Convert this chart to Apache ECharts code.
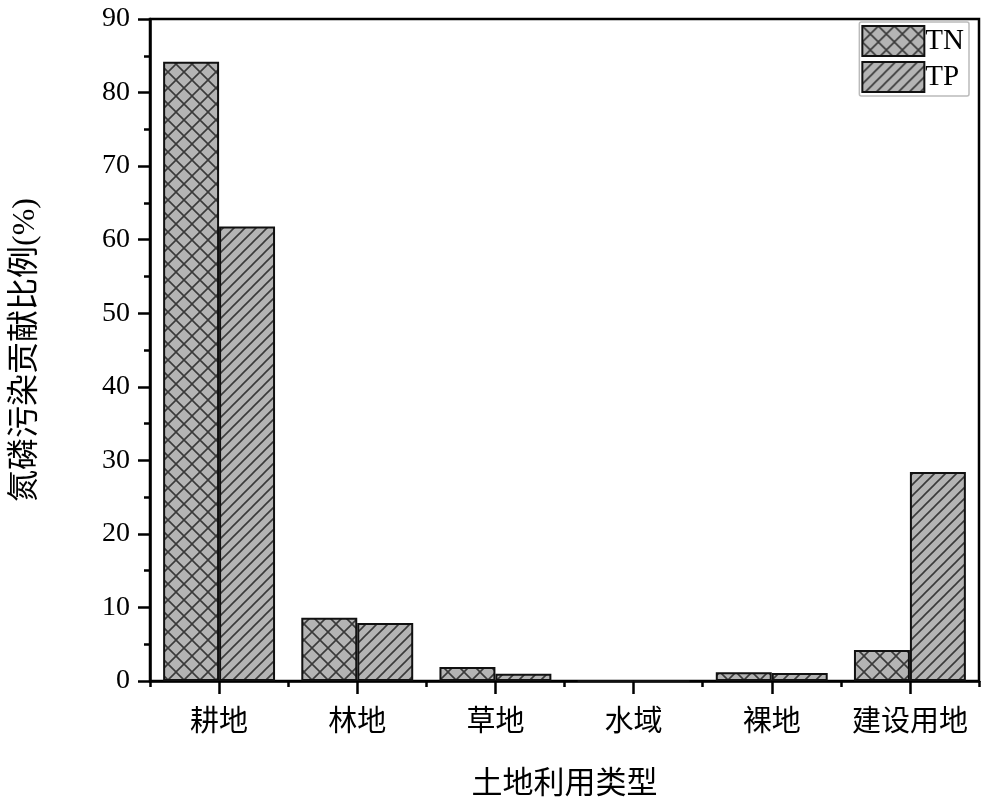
<!DOCTYPE html>
<html>
<head>
<meta charset="utf-8">
<script src="https://cdn.jsdelivr.net/npm/echarts@6/dist/echarts.min.js"></script>
<style>
html,body{margin:0;padding:0;background:#fff;}
#chart{width:994px;height:809px;}
</style>
</head>
<body>
<div id="chart"></div>
<script>
const categories = ['耕地', '林地', '草地', '水域', '裸地', '建设用地'];
const tnValues = [84.2, 8.6, 1.9, 0, 1.2, 4.2];
const tpValues = [61.8, 7.9, 1.0, 0, 1.1, 28.4];
const yTicks = [0, 10, 20, 30, 40, 50, 60, 70, 80, 90];

function makePattern(kind) {
  const s = kind === 'cross' ? 16 : 11;
  const c = document.createElement('canvas');
  c.width = s; c.height = s;
  const g = c.getContext('2d');
  g.fillStyle = '#b4b4b4';
  g.fillRect(0, 0, s, s);
  g.strokeStyle = '#3a3a3a';
  g.lineWidth = 1.6;
  g.beginPath();
  g.moveTo(-2, s + 2); g.lineTo(s + 2, -2);
  g.moveTo(-2, 2); g.lineTo(2, -2);
  g.moveTo(s - 2, s + 2); g.lineTo(s + 2, s - 2);
  if (kind === 'cross') {
    g.moveTo(-2, -2); g.lineTo(s + 2, s + 2);
    g.moveTo(-2, s - 2); g.lineTo(2, s + 2);
    g.moveTo(s - 2, -2); g.lineTo(s + 2, 2);
  }
  g.stroke();
  return { image: c, repeat: 'repeat' };
}

const serif = '"Liberation Serif", "Noto Sans CJK SC", serif';
const chart = echarts.init(document.getElementById('chart'));
chart.setOption({
  animation: false,
  backgroundColor: '#fff',
  textStyle: { fontFamily: serif, color: '#000' },
  grid: { left: 150, right: 15, top: 19, bottom: 128, show: true, borderColor: '#000', borderWidth: 2.5, backgroundColor: 'transparent' },
  legend: {
    right: 25, top: 22, orient: 'vertical',
    icon: 'rect',
    itemWidth: 62, itemHeight: 30, itemGap: 4,
    padding: [3, 5, 3, 2],
    borderColor: '#bbb', borderWidth: 1.5, borderRadius: 2,
    textStyle: { fontFamily: serif, fontSize: 29, color: '#000', padding: [0, 0, 0, -4] },
    data: ['TN', 'TP']
  },
  xAxis: [{
    type: 'category', data: categories,
    name: '土地利用类型', nameLocation: 'middle', nameGap: 88,
    nameTextStyle: { fontSize: 31, fontFamily: serif, color: '#000' },
    axisLine: { lineStyle: { color: '#000', width: 2.5 } },
    axisTick: { show: false },
    axisLabel: { interval: 0, fontSize: 29, color: '#000', margin: 28, fontFamily: serif },
    splitLine: { show: false }
  }, {
    type: 'value', min: 0, max: categories.length, interval: 1, position: 'bottom',
    axisLine: { show: false },
    axisTick: { show: true, length: 6, lineStyle: { color: '#000', width: 2.5 } },
    minorTick: { show: true, splitNumber: 2, length: 13, lineStyle: { color: '#000', width: 2.5 } },
    axisLabel: { show: false },
    splitLine: { show: false }
  }],
  yAxis: {
    type: 'value', min: yTicks[0], max: yTicks[yTicks.length - 1], interval: 10,
    name: '氮磷污染贡献比例(%)', nameLocation: 'middle', nameGap: 108,
    nameTextStyle: { fontSize: 32, fontFamily: serif, color: '#000' },
    axisLine: { show: true, lineStyle: { color: '#000', width: 2.5 } },
    axisTick: { show: true, length: 12, lineStyle: { color: '#000', width: 2.5 } },
    minorTick: { show: true, splitNumber: 2, length: 6, lineStyle: { color: '#000', width: 2.5 } },
    axisLabel: { fontSize: 28, color: '#000', margin: 20, fontFamily: serif },
    splitLine: { show: false }
  },
  series: [{
    name: 'TN', type: 'bar', data: tnValues,
    barGap: '0%', barCategoryGap: '19%',
    itemStyle: { color: makePattern('cross'), borderColor: '#111', borderWidth: 2 }
  }, {
    name: 'TP', type: 'bar', data: tpValues,
    barGap: '0%', barCategoryGap: '19%',
    itemStyle: { color: makePattern('line'), borderColor: '#111', borderWidth: 2 }
  }]
});
</script>
</body>
</html>
